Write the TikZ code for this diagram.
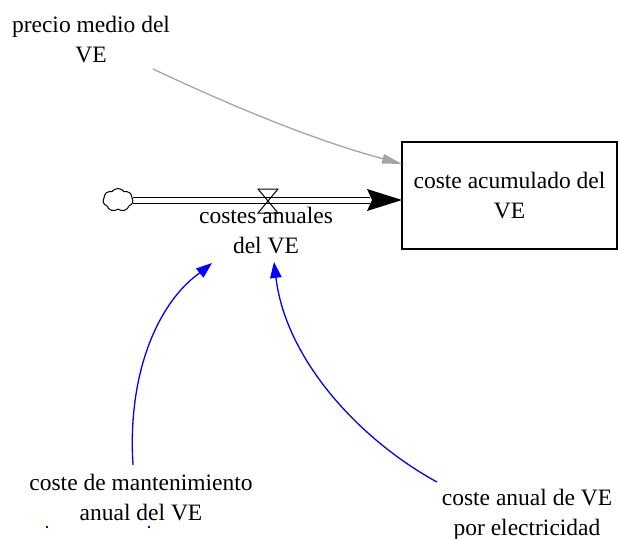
\documentclass[tikz,border=0pt]{standalone}
\usepackage{fontspec}
\setmainfont{Liberation Serif}
\newfontfamily\tnr{Liberation Serif}
\usetikzlibrary{shapes.symbols,calc}
\definecolor{linkgray}{RGB}{165,165,165}
\definecolor{linkblue}{RGB}{0,0,255}
\begin{document}
\begin{tikzpicture}[x=1pt,y=-1pt,
  lbl/.style={align=center,inner sep=0pt,font=\tnr\fontsize{23.5}{30}\selectfont},
  stockbox/.style={draw,line width=1.1pt,minimum width=215pt,minimum height=107pt,inner sep=0pt,align=center,font=\tnr\fontsize{23.5}{30}\selectfont},
  bluelink/.style={draw=linkblue,line width=1.3pt},
  graylink/.style={draw=linkgray,line width=1.3pt},
  tipblue/.style={fill=linkblue},
  tipgray/.style={fill=linkgray}]
\useasboundingbox (0,0) rectangle (618,538);

% nodes
\node[lbl] (precio) at (91,40) {precio medio del\\VE};
\node[stockbox] (stock) at (509.5,195.5) {coste acumulado del\\VE};
\node[lbl] (flowlbl) at (266,231) {costes anuales\\del VE};
\node[lbl] (mant) at (141,498) {coste de mantenimiento\\anual del VE};
\node[lbl] (elec) at (527,515) {coste anual de VE\\por electricidad};
\node[cloud,draw,cloud puffs=7,cloud puff arc=110,aspect=1.4,minimum width=30pt,minimum height=23pt,inner sep=0pt,line width=1pt] (src) at (118,200) {};

% coordinates
\coordinate (pipeend) at (370,200);
\coordinate (stockin) at (402,200);
\coordinate (valve) at (268,201);
\coordinate (gs) at (153,69);
\coordinate (ge) at (402,164);
\coordinate (b1s) at (133,465);
\coordinate (b1e) at (212,263);
\coordinate (b2s) at (437,482);
\coordinate (b2e) at (274,262);

% flow pipe
\draw[line width=1pt] (src.east |- 0,197.5) -- (pipeend |- 0,197.5);
\draw[line width=1pt] (src.east |- 0,203) -- (pipeend |- 0,203);
\fill (stockin) -- (367,189) -- (372,200) -- (367,211) -- cycle;
% valve
\draw[line width=1pt] ($(valve)+(-10,-12)$) -- ($(valve)+(10,-12)$) -- (valve) -- cycle;
\draw[line width=1pt] ($(valve)+(-10,12)$) -- ($(valve)+(10,12)$) -- (valve) -- cycle;

% gray link
\draw[graylink] (gs) .. controls (240,110) and (320,142) .. (384,159);
\fill[tipgray] (ge) -- (384,154) -- (381.5,163.5) -- cycle;

% blue links
\draw[bluelink] (b1s) .. controls (127,370) and (160,300) .. (201,272);
\fill[tipblue] (b1e) -- (203.5,277.7) -- (195.9,268.5) -- cycle;
\draw[bluelink] (b2s) .. controls (360,440) and (286,360) .. (276,278);
\fill[tipblue] (b2e) -- (281.8,277.1) -- (270,278.5) -- cycle;

% tiny fragments at bottom
\fill[linkblue] (45.5,526) rectangle (48,528);
\fill[linkblue] (148,526) rectangle (150,528);
\end{tikzpicture}
\end{document}
